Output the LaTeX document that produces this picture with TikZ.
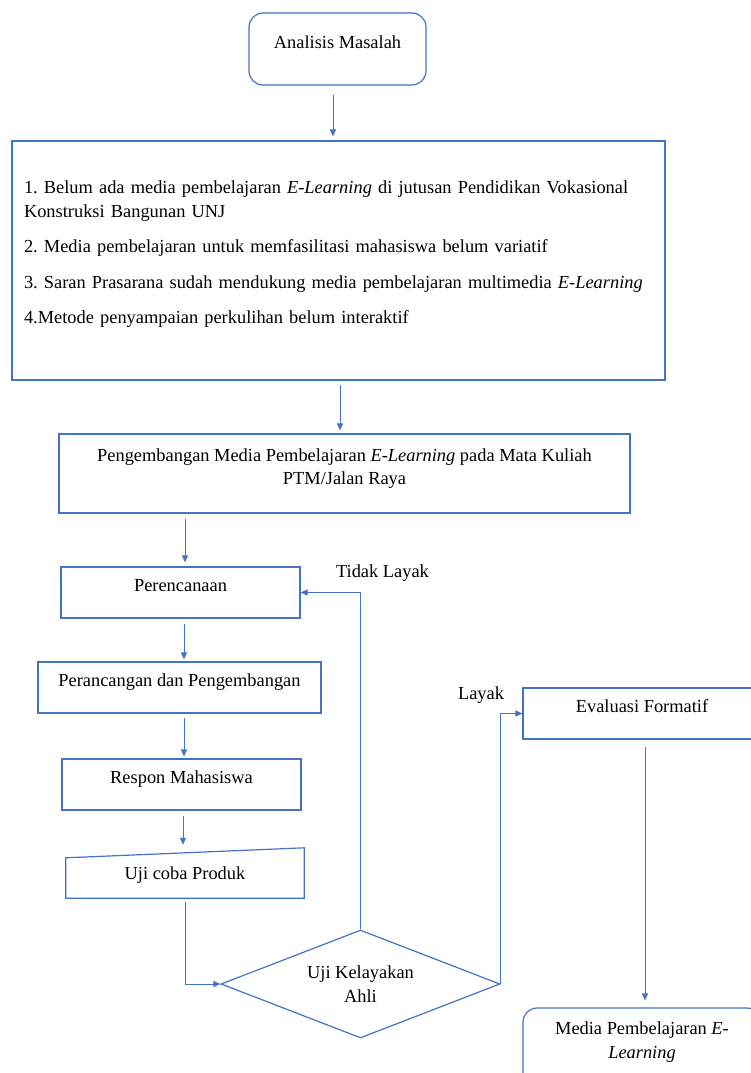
\documentclass[tikz,border=0pt]{standalone}
\usepackage{fontspec}
\setmainfont{Liberation Serif}
\usetikzlibrary{positioning,shapes.geometric,arrows.meta}
\definecolor{flowblue}{RGB}{68,114,196}
\newcommand{\lowgap}[1]{\rule[-#1]{0pt}{0pt}}
\frenchspacing

\begin{document}
\begin{tikzpicture}[
    x=1pt, y=-1pt,
    font=\fontsize{18.4}{23.5}\selectfont,
    box/.style={rectangle, draw=flowblue, line width=1.2pt, inner sep=0pt, minimum height=51pt, text height=12.5pt, text depth=14pt},
    rbox/.style={box, rounded corners=14pt},
    decision/.style={diamond, draw=flowblue, line width=1.2pt, inner sep=0pt, aspect=2.6, minimum width=279pt, minimum height=108pt, align=center},
    flow/.style={draw=flowblue, line width=1pt},
    >={Triangle[length=7pt,width=6pt]}
]

% Page frame
\useasboundingbox (0,0) rectangle (751,1073);
\clip (0,0) rectangle (751,1073);

% Top part
\node[rbox, minimum width=177pt, minimum height=72pt] (ana) at (337.5,49) {Analisis Masalah};
\node[box, minimum width=653pt, minimum height=239pt, text width=629pt, align=left, text height=, text depth=] (prob) at (338.5,260.5)
  {1. Belum ada media pembelajaran \textit{E-Learning} di jutusan Pendidikan Vokasional\\
   Konstruksi Bangunan UNJ\\[12pt]
   2. Media pembelajaran untuk memfasilitasi mahasiswa belum variatif\\[12pt]
   3. Saran Prasarana sudah mendukung media pembelajaran multimedia \textit{E-Learning}\\[12pt]
   4.Metode penyampaian perkulihan belum interaktif\lowgap{16pt}};
\node[box, minimum width=571pt, minimum height=79pt, align=center, text height=, text depth=] (dev) at (344.5,473.5)
  {Pengembangan Media Pembelajaran \textit{E-Learning} pada Mata Kuliah\\PTM/Jalan Raya\lowgap{13.5pt}};

% Left column
\node[box, minimum width=239pt] (plan) at (180.5,592.5) {Perencanaan};
\node[box, minimum width=283pt, text depth=15.5pt] (design) at (179.5,687.5) {Perancangan dan Pengembangan};
\node[box, minimum width=239pt] (resp) at (181.5,784.5) {Respon Mahasiswa};
\node[minimum width=238pt, minimum height=50pt, inner sep=0pt, text height=12.5pt, text depth=0pt] (test) at (185,873) {Uji coba Produk};
\draw[flow, line width=1.2pt] (test.south west) -- (test.south east) -- (test.north east) -- ([yshift=-10pt]test.north west) -- cycle;

% Decision
\node[decision] (dia) at (360.5,984) {Uji Kelayakan\\Ahli};

% Right column
\node[box, minimum width=238pt] (eval) at (642,713.5) {Evaluasi Formatif};
\node[rbox, minimum width=238pt, minimum height=84pt, align=center, text height=, text depth=] (media) at (642,1050)
  {Media Pembelajaran \textit{E-}\\\textit{Learning}\lowgap{20pt}};

% Labels
\node (tl) at (382.5,573) {Tidak Layak};
\node (ly) at (481,695) {Layak};

% Arrows
\draw[flow, ->, shorten <=9pt, shorten >=4pt] ([xshift=-4.5pt]ana.south) -- ([xshift=-4.5pt]ana.south |- prob.north);
\draw[flow, ->, shorten <=4pt, shorten >=3pt] ([xshift=1.5pt]prob.south) -- ([xshift=1.5pt]prob.south |- dev.north);
\draw[flow, ->, shorten <=5pt, shorten >=4pt] ([xshift=4.5pt]plan.north |- dev.south) -- ([xshift=4.5pt]plan.north);
\draw[flow, ->, shorten <=5pt, shorten >=2pt] ([xshift=4.5pt]design.north |- plan.south) -- ([xshift=4.5pt]design.north);
\draw[flow, ->, shorten <=4pt, shorten >=2pt] ([xshift=2.5pt]resp.north |- design.south) -- ([xshift=2.5pt]resp.north);
\draw[flow, ->, shorten <=5pt, shorten >=3pt] ([xshift=-2pt]test.north |- resp.south) -- ([xshift=-2pt]test.north);
\draw[flow, ->, shorten <=4pt] (test.south) |- (dia.west);
\draw[flow, ->] (dia.north) |- (plan.east);
\draw[flow, ->] (dia.east) |- (eval.west);
\draw[flow, ->, shorten <=7pt, shorten >=7pt] ([xshift=3pt]eval.south) -- ([xshift=3pt]media.north);

\end{tikzpicture}
\end{document}
